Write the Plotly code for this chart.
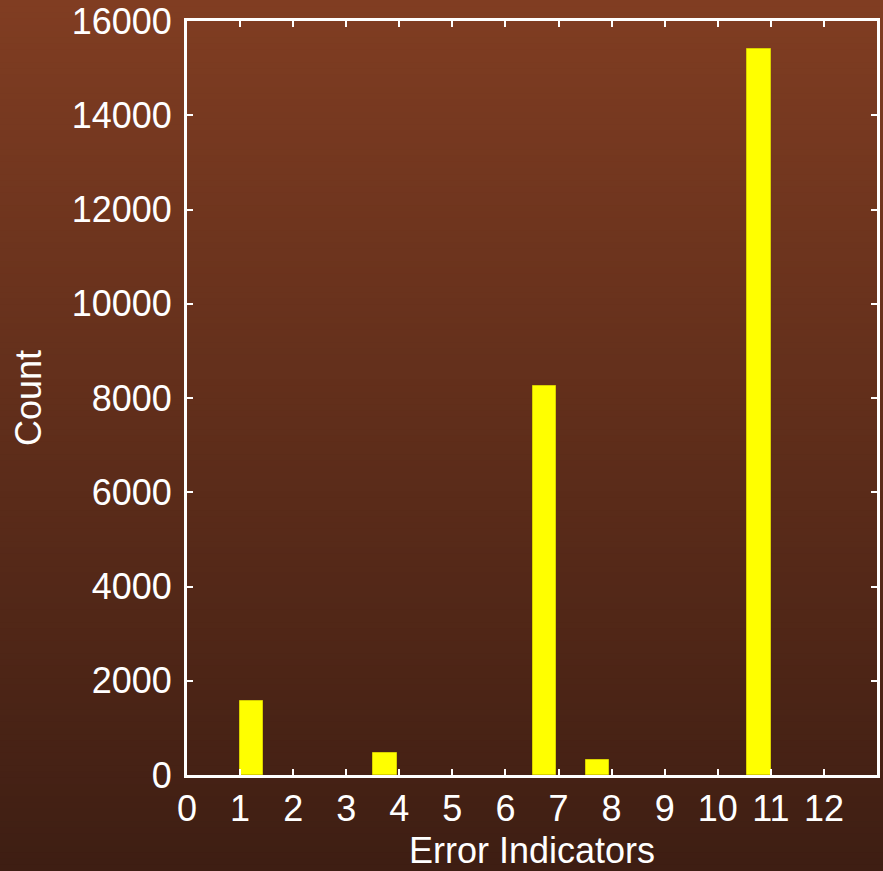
import plotly.graph_objects as go

# Data
bin_centers = [1.22, 3.73, 6.74, 7.74, 10.78]
counts = [1570, 467, 8254, 318, 15411]
x_ticks = list(range(0, 13))
y_ticks = list(range(0, 16001, 2000))

W, H = 883, 871
ml, mr, mt, mb = 187, 6, 21, 96
pw, ph = W - ml - mr, H - mt - mb

top_rgb = (128, 61, 34)
bot_rgb = (62, 30, 19)

fig = go.Figure()
fig.add_trace(go.Bar(
    x=bin_centers, y=counts, width=0.44,
    marker=dict(color="#FFFF00", line=dict(color="#D8D000", width=1)),
))

# background vertical gradient via strips (paper coordinates covering whole figure)
y_bot = -mb / ph
y_top = 1 + mt / ph
x_l = -ml / pw
x_r = 1 + mr / pw
n = 140
shapes = []
for i in range(n):
    t = i / (n - 1)
    c = tuple(round(bot_rgb[k] + (top_rgb[k] - bot_rgb[k]) * t) for k in range(3))
    y0 = y_bot + (y_top - y_bot) * i / n
    y1 = y_bot + (y_top - y_bot) * (i + 1) / n + 0.002
    shapes.append(dict(type="rect", xref="paper", yref="paper", x0=x_l - 0.01, x1=x_r + 0.01,
                       y0=y0, y1=y1, fillcolor="rgb(%d,%d,%d)" % c, line=dict(width=0),
                       layer="below"))

font = dict(family="Liberation Sans, Arial, sans-serif", size=36, color="white")

fig.update_layout(
    width=W, height=H,
    margin=dict(l=ml, r=mr, t=mt, b=mb, autoexpand=False),
    paper_bgcolor="rgb(62,30,19)",
    plot_bgcolor="rgba(0,0,0,0)",
    shapes=shapes,
    showlegend=False,
    font=font,
    bargap=0,
    xaxis=dict(
        range=[0, 13], tickvals=x_ticks, ticktext=[str(v) for v in x_ticks],
        showgrid=False, zeroline=False,
        showline=True, linecolor="white", linewidth=3, mirror="ticks",
        ticks="inside", ticklen=6, tickwidth=2, tickcolor="white",
        tickfont=font,
        title=dict(text="Error Indicators", font=font, standoff=12),
        automargin=False,
    ),
    yaxis=dict(
        range=[0, 16000], tickvals=y_ticks, ticktext=[str(v) for v in y_ticks],
        showgrid=False, zeroline=False,
        showline=True, linecolor="white", linewidth=3, mirror="ticks",
        ticks="inside", ticklen=6, tickwidth=2, tickcolor="white",
        tickfont=font, ticklabelstandoff=5,
        title=dict(text="Count", font=font, standoff=20),
        automargin=False,
    ),
)

fig.write_html(
    "out.html",
    config={"displayModeBar": False},
    post_script="document.body.style.margin='0';document.body.style.padding='0';"
                "document.body.style.overflow='hidden';",
)
